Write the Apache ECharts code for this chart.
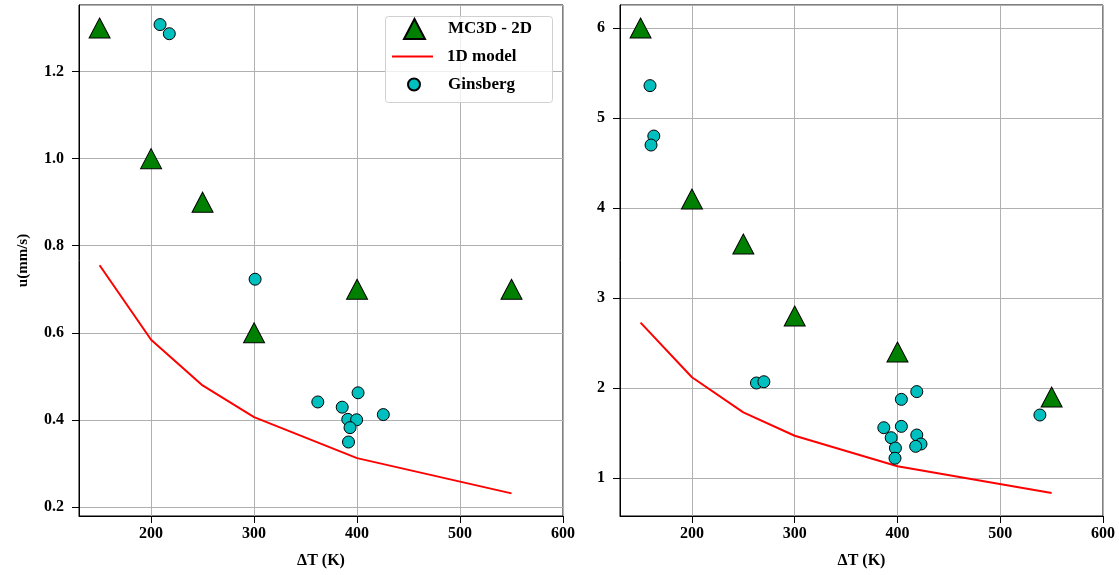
<!DOCTYPE html>
<html>
<head>
<meta charset="utf-8">
<script src="https://cdn.jsdelivr.net/npm/echarts@6/dist/echarts.min.js"></script>
<style>html,body{margin:0;padding:0;background:#fff;}#c{width:1119px;height:575px;}</style>
</head>
<body>
<div id="c"></div>
<script>
// ---- Data ----
const mcX = [150, 200, 250, 300, 400, 550];
const mcLeft = [1.3, 1.0, 0.9, 0.6, 0.7, 0.7];
const mcRight = [6.0, 4.1, 3.6, 2.8, 2.4, 1.9];

const modelX = [150, 200, 250, 300, 400, 550];
const modelLeft = [0.755, 0.584, 0.479, 0.406, 0.312, 0.231];
const modelRight = [2.726, 2.12, 1.73, 1.47, 1.13, 0.833];

const ginsLeftX = [208.7, 217.7, 301, 361.9, 385.6, 401, 391, 399.6, 393.2, 391.7, 425.5];
const ginsLeftY = [1.308, 1.287, 0.723, 0.441, 0.429, 0.462, 0.401, 0.40, 0.382, 0.349, 0.412];

const ginsRightX = [159.2, 162.9, 160.2, 262.8, 270, 418.8, 403.8, 403.8, 386.7, 393.9, 398, 397.6, 418.8, 422.9, 417.7, 538.6];
const ginsRightY = [5.36, 4.80, 4.70, 2.056, 2.07, 1.96, 1.874, 1.574, 1.559, 1.448, 1.333, 1.22, 1.478, 1.378, 1.352, 1.70];

const seriesNames = ['MC3D - 2D', '1D model', 'Ginsberg'];
const xLabel = 'ΔT (K)';
const yLabel = 'u(mm/s)';

const zip = (xs, ys) => xs.map((x, i) => [x, ys[i]]);

const FONT = 'Liberation Serif';
const labelStyle = { fontFamily: FONT, fontWeight: 'bold', fontSize: 16, color: '#000' };

function xAxis(gi) {
  return {
    type: 'value', gridIndex: gi, min: 130, max: 600, splitNumber: 5,
    name: xLabel, nameLocation: 'middle', nameGap: 37,
    nameTextStyle: { fontFamily: FONT, fontWeight: 'bold', fontSize: 16, color: '#000' },
    axisLine: { show: true, lineStyle: { color: '#000', width: 1 } },
    axisTick: { show: true, inside: false, length: 7, lineStyle: { color: '#000' } },
    axisLabel: Object.assign({ margin: 10, showMinLabel: false, showMaxLabel: true }, labelStyle),
    splitLine: { show: true, lineStyle: { color: '#b0b0b0', width: 1 } }
  };
}
function yAxis(gi, min, max, fmt, name) {
  return {
    type: 'value', gridIndex: gi, min: min, max: max, splitNumber: 5,
    name: name || '', nameLocation: 'middle', nameGap: 48, nameRotate: 90,
    nameTextStyle: { fontFamily: FONT, fontWeight: 'bold', fontSize: 15, color: '#000' },
    axisLine: { show: true, lineStyle: { color: '#000', width: 1 } },
    axisTick: { show: true, inside: false, length: 7, lineStyle: { color: '#000' } },
    axisLabel: Object.assign({ margin: 15, showMinLabel: false, showMaxLabel: false, formatter: fmt }, labelStyle),
    splitLine: { show: true, lineStyle: { color: '#b0b0b0', width: 1 } }
  };
}

const triStyle = { color: '#008000', borderColor: '#000', borderWidth: 1, opacity: 1 };
const cirStyle = { color: '#00BFBF', borderColor: '#000', borderWidth: 1, opacity: 1 };
const legendText = (pad) => ({ fontFamily: FONT, fontWeight: 'bold', fontSize: 17, color: '#000', padding: [0, 0, 0, pad] });

const chart = echarts.init(document.getElementById('c'), null, { renderer: 'canvas' });
chart.setOption({
  animation: false,
  backgroundColor: '#fff',
  grid: [
    { left: 79, right: 556, top: 5, bottom: 59, show: true, borderColor: '#000', borderWidth: 1, containLabel: false },
    { left: 620, right: 16, top: 5, bottom: 59, show: true, borderColor: '#000', borderWidth: 1, containLabel: false }
  ],
  graphic: [{
    type: 'rect', left: 385, top: 16, z: 10,
    shape: { width: 167, height: 86, r: 3 },
    style: { fill: 'rgba(255,255,255,0.8)', stroke: '#d0d0d0', lineWidth: 1 }
  }],
  xAxis: [xAxis(0), xAxis(1)],
  yAxis: [
    yAxis(0, 0.179, 1.353, v => v.toFixed(1), yLabel),
    yAxis(1, 0.578, 6.256, v => String(Math.round(v)))
  ],
  legend: [
    { orient: 'vertical', left: 403, top: 18, padding: 0, z: 20, selectedMode: false,
      data: [{ name: seriesNames[0], icon: 'triangle' }], itemWidth: 21, itemHeight: 20, textStyle: legendText(18) },
    { orient: 'vertical', left: 392, top: 48, padding: 0, z: 20, selectedMode: false,
      data: [{ name: seriesNames[1], icon: 'rect' }], itemWidth: 41, itemHeight: 2, textStyle: legendText(9) },
    { orient: 'vertical', left: 407, top: 76, padding: 0, z: 20, selectedMode: false,
      data: [{ name: seriesNames[2], icon: 'circle' }], itemWidth: 12, itemHeight: 12, textStyle: legendText(23) }
  ],
  series: [
    { name: seriesNames[0], type: 'scatter', xAxisIndex: 0, yAxisIndex: 0, data: zip(mcX, mcLeft), symbol: 'triangle', symbolSize: [21, 20], itemStyle: triStyle, z: 3 },
    { name: seriesNames[1], type: 'line', xAxisIndex: 0, yAxisIndex: 0, data: zip(modelX, modelLeft), symbol: 'none', showSymbol: false, lineStyle: { color: '#ff0000', width: 2 }, itemStyle: { color: '#ff0000' }, z: 3 },
    { name: seriesNames[2], type: 'scatter', xAxisIndex: 0, yAxisIndex: 0, data: zip(ginsLeftX, ginsLeftY), symbol: 'circle', symbolSize: 12, itemStyle: cirStyle, z: 4 },
    { name: seriesNames[0], type: 'scatter', xAxisIndex: 1, yAxisIndex: 1, data: zip(mcX, mcRight), symbol: 'triangle', symbolSize: [21, 20], itemStyle: triStyle, z: 3 },
    { name: seriesNames[1], type: 'line', xAxisIndex: 1, yAxisIndex: 1, data: zip(modelX, modelRight), symbol: 'none', showSymbol: false, lineStyle: { color: '#ff0000', width: 2 }, itemStyle: { color: '#ff0000' }, z: 3 },
    { name: seriesNames[2], type: 'scatter', xAxisIndex: 1, yAxisIndex: 1, data: zip(ginsRightX, ginsRightY), symbol: 'circle', symbolSize: 12, itemStyle: cirStyle, z: 4 }
  ]
});
</script>
</body>
</html>
